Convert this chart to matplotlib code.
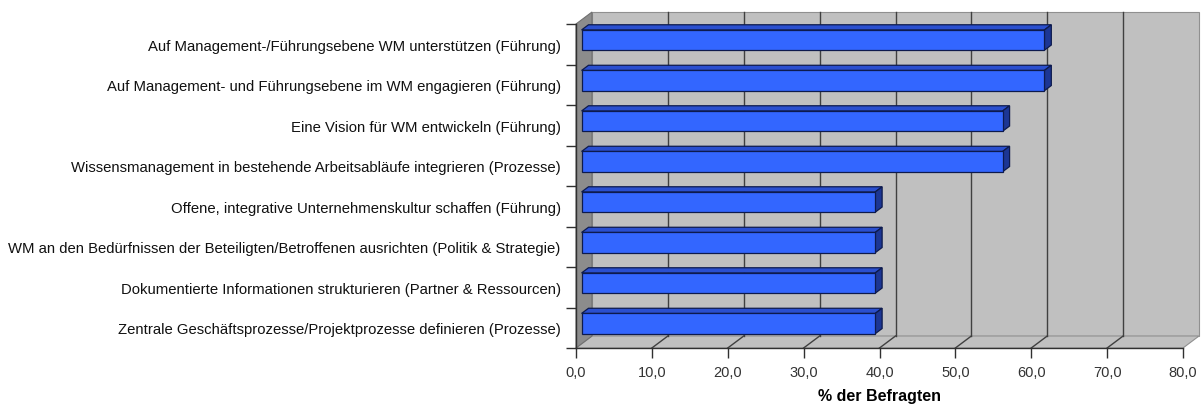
import numpy as np
import matplotlib.pyplot as plt
from matplotlib.patches import Polygon, Rectangle

plt.rcParams['font.family'] = ['Liberation Sans', 'DejaVu Sans']

labels = [
    'Auf Management-/Führungsebene WM unterstützen (Führung)',
    'Auf Management- und Führungsebene im WM engagieren (Führung)',
    'Eine Vision für WM entwickeln (Führung)',
    'Wissensmanagement in bestehende Arbeitsabläufe integrieren (Prozesse)',
    'Offene, integrative Unternehmenskultur schaffen (Führung)',
    'WM an den Bedürfnissen der Beteiligten/Betroffenen ausrichten (Politik & Strategie)',
    'Dokumentierte Informationen strukturieren (Partner & Ressourcen)',
    'Zentrale Geschäftsprozesse/Projektprozesse definieren (Prozesse)',
]
values = [61.0, 61.0, 55.5, 55.5, 38.7, 38.7, 38.7, 38.7]
xticks = [0, 10, 20, 30, 40, 50, 60, 70, 80]
xlabel = '% der Befragten'

W, H = 1202, 406
fig = plt.figure(figsize=(W / 100, H / 100), dpi=100)
x0, x1 = 576, 1183          # front plane, pixels
ytop, ybot = 25, 349
ax = fig.add_axes([x0 / W, 1 - ybot / H, (x1 - x0) / W, (ybot - ytop) / H])
ax.set_facecolor('none')

n = len(labels)
xmax = 80
ax.set_xlim(0, xmax)
ax.set_ylim(n - 0.5, -0.5)

# depth of the fake 3d box in data units
DX = 16 / ((x1 - x0) / xmax)
DY = 12 / ((ybot - ytop) / n)
lo, hi = n - 0.5, -0.5

wall = '#c0c0c0'
side = '#8c8c8c'
grid = '#404040'
kw = dict(clip_on=False, zorder=0.5)

# back wall, floor, left wall
ax.add_patch(Rectangle((DX, hi - DY), xmax, n, fc=wall, ec='#909090', lw=0.8, **kw))
ax.add_patch(Polygon([(0, lo), (xmax, lo), (xmax + DX, lo - DY), (DX, lo - DY)],
                     fc=wall, ec='#909090', lw=0.8, **kw))
ax.add_patch(Polygon([(0, lo), (0, hi), (DX, hi - DY), (DX, lo - DY)],
                     fc=side, ec='#707070', lw=0.8, **kw))

for t in xticks[1:-1]:
    ax.plot([t + DX, t + DX], [lo - DY, hi - DY], color=grid, lw=1, clip_on=False, zorder=0.6)
    ax.plot([t, t + DX], [lo, lo - DY], color=grid, lw=1, clip_on=False, zorder=0.6)

# bars as boxes sitting in the middle of the depth
f0, f1 = 0.35, 0.78
h = 0.5
front_c, top_c, side_c, edge_c = '#3366ff', '#2a4fcf', '#1c3694', '#0d1a4d'
for i, v in enumerate(values):
    yt, yb = i - h / 2, i + h / 2
    a, b = f0 * DX, f1 * DX
    c, d = f0 * DY, f1 * DY
    bkw = dict(ec=edge_c, lw=0.9, clip_on=False, zorder=2)
    ax.add_patch(Polygon([(a, yt - c), (v + a, yt - c), (v + b, yt - d), (b, yt - d)],
                         fc=top_c, **bkw))
    ax.add_patch(Polygon([(v + a, yt - c), (v + a, yb - c), (v + b, yb - d), (v + b, yt - d)],
                         fc=side_c, **bkw))
    ax.add_patch(Rectangle((a, yt - c), v, h, fc=front_c, **bkw))

for s in ['top', 'right']:
    ax.spines[s].set_visible(False)
for s in ['left', 'bottom']:
    ax.spines[s].set_color('#303030')
    ax.spines[s].set_linewidth(1.0)

ax.set_xticks(xticks)
ax.set_xticklabels([f'{t:.1f}'.replace('.', ',') for t in xticks], color='#333333', fontsize=10.5)
ax.tick_params(axis='x', length=7, width=1, color='#303030', pad=5)

ax.set_yticks(np.arange(n + 1) - 0.5)
ax.set_yticklabels([])
ax.set_yticks(np.arange(n), minor=True)
ax.set_yticklabels(labels, minor=True, fontsize=10.7, color='#111111')
ax.tick_params(axis='y', which='major', length=7, width=1, color='#303030')
ax.tick_params(axis='y', which='minor', length=0, pad=11)

ax.set_xlabel(xlabel, fontsize=11.5, fontweight='bold', labelpad=7)

fig.savefig('out.png', dpi=100)
